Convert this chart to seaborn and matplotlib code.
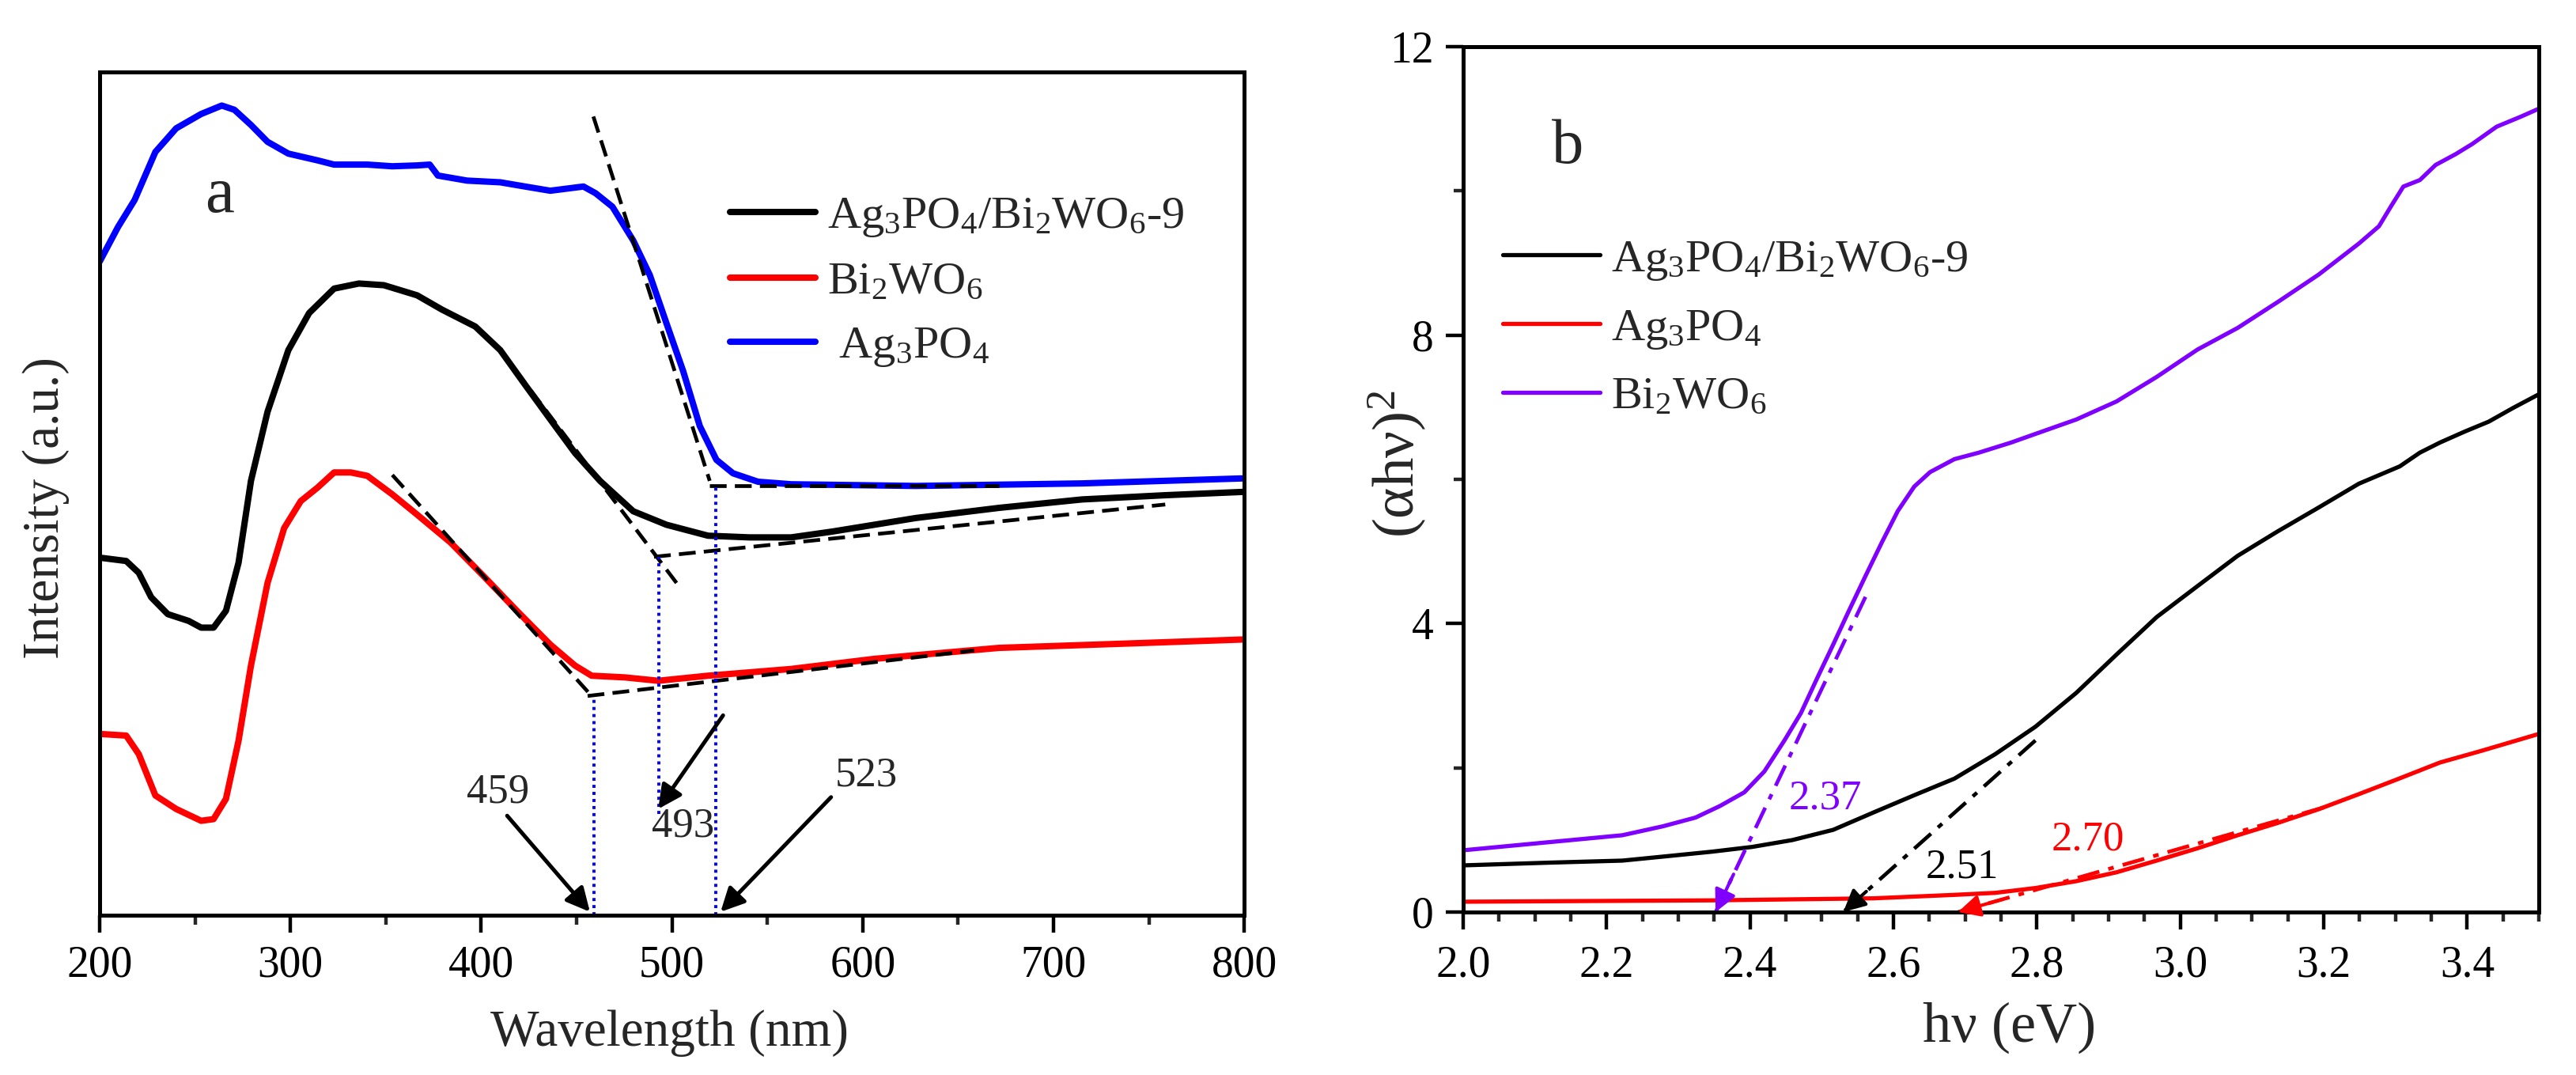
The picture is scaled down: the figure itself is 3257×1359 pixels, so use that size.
"""
UV-vis DRS spectra (a) and Tauc plot (b)
"""

import matplotlib
matplotlib.use("Agg")
import matplotlib.pyplot as plt
from matplotlib.ticker import MultipleLocator, FormatStrFormatter
import pandas as pd
import seaborn as sns

sns.set_style("ticks")
plt.rcParams["font.family"] = ["Liberation Serif", "DejaVu Serif"]
plt.rcParams["mathtext.fontset"] = "custom"
plt.rcParams["mathtext.rm"] = "Liberation Serif"
plt.rcParams["mathtext.it"] = "Liberation Serif:italic"
plt.rcParams["mathtext.bf"] = "Liberation Serif:bold"

# ---- panel a: reflectance spectra (arbitrary intensity units) ----
blue_wl = [200, 209.6, 218.3, 229.2, 240.1, 253.2, 264, 270.6, 279.3, 288, 298.9, 314.2,
           322.9, 340.3, 353.4, 366.4, 373, 377.3, 392.6, 410, 423, 436.2, 453.6, 460,
           468.8, 479.7, 488.4, 497.1, 505.9, 514.6, 523.3, 532, 545.1, 562.5, 627.9, 715, 800]
blue_int = [77.5, 81.6, 84.8, 90.5, 93.3, 95.0, 96.0, 95.5, 93.7, 91.7, 90.3, 89.5,
            89.0, 89.0, 88.8, 88.9, 89.0, 87.7, 87.1, 86.9, 86.4, 85.9, 86.4, 85.6,
            84.0, 80.0, 75.9, 70.2, 64.5, 58.0, 54.0, 52.4, 51.4, 51.1, 50.9, 51.2, 51.8]

black_wl = [200, 213.9, 220.5, 227, 235.7, 246.6, 253.2, 259.7, 266.2, 272.8, 279.3, 288,
            298.9, 309.8, 322.9, 335.9, 349, 366.4, 379.5, 396.9, 410, 423, 436.2, 449.2,
            462.3, 479.7, 497.1, 518.9, 540.7, 562.5, 584.3, 627.9, 671.4, 715, 758.6, 800]
black_int = [42.4, 42.0, 40.6, 37.7, 35.7, 34.9, 34.1, 34.1, 36.1, 41.8, 51.5, 59.7,
             67.0, 71.4, 74.3, 74.9, 74.7, 73.5, 71.8, 69.8, 67.0, 62.9, 58.8, 54.8,
             51.5, 47.9, 46.3, 45.0, 44.8, 44.8, 45.5, 47.1, 48.3, 49.3, 49.8, 50.2]

red_wl = [200, 213.9, 220.5, 229.2, 240.1, 253.2, 259.7, 266.2, 272.8, 279.3, 288, 296.7,
          305.4, 314.2, 322.9, 331.6, 340.3, 353.4, 366.4, 383.9, 401.3, 418.7, 436.2,
          449.2, 457.9, 475.4, 492.8, 518.9, 562.5, 606.1, 671.4, 736.8, 800]
red_int = [21.5, 21.3, 19.1, 14.2, 12.6, 11.2, 11.4, 13.8, 20.7, 29.6, 39.4, 45.9,
           49.1, 50.7, 52.5, 52.5, 52.1, 49.9, 47.5, 44.2, 40.2, 36.1, 32.1,
           29.6, 28.4, 28.2, 27.8, 28.4, 29.2, 30.4, 31.7, 32.2, 32.7]

labels_a = [r"Ag$_3$PO$_4$/Bi$_2$WO$_6$-9", r"Bi$_2$WO$_6$", r" Ag$_3$PO$_4$"]
colors_a = ["black", "#FF0000", "#0000FF"]

# tangent / baseline segments (x pair, y pair)
tangents_a = [
    ([458.8, 519.8], [94.7, 51.5]),
    ([519.8, 671.4], [50.9, 50.9]),
    ([410.0, 502.4], [67.0, 39.4]),
    ([490.6, 758.6], [42.5, 48.7]),
    ([353.4, 457.9], [52.2, 26.0]),
    ([455.8, 658.4], [26.0, 31.4]),
]
edge_wl = [459, 493, 523]
edge_ymin = [0, 12, 0]
edge_ymax = [26.0, 42.5, 51.1]
edge_text = ["459", "493", "523"]
edge_text_xy = [(408.7, 14.6), (505.9, 10.6), (601.7, 16.6)]
edge_arrow_tail = [(413.6, 11.8), (526.8, 23.7), (583.4, 14.0)]
edge_arrow_head = [(457.0, 0.4), (492.8, 12.6), (525.5, 0.4)]

# ---- panel b: Tauc plot ----
purple_ev = [2.0, 2.121, 2.222, 2.279, 2.324, 2.358, 2.392, 2.420, 2.448, 2.471, 2.493, 2.516,
             2.538, 2.561, 2.584, 2.606, 2.629, 2.651, 2.685, 2.719, 2.764, 2.798, 2.855, 2.911,
             2.967, 3.024, 3.080, 3.136, 3.193, 3.249, 3.277, 3.294, 3.311, 3.334, 3.356, 3.384,
             3.407, 3.441, 3.475, 3.5]
purple_val = [0.856, 0.97, 1.065, 1.19, 1.31, 1.47, 1.66, 1.95, 2.38, 2.76, 3.23, 3.71,
              4.18, 4.66, 5.13, 5.56, 5.90, 6.10, 6.28, 6.37, 6.51, 6.63, 6.83, 7.08,
              7.42, 7.80, 8.10, 8.46, 8.84, 9.27, 9.51, 9.79, 10.06, 10.15, 10.36, 10.51,
              10.65, 10.89, 11.03, 11.14]

comp_ev = [2.0, 2.121, 2.222, 2.29, 2.347, 2.403, 2.459, 2.516, 2.572, 2.629, 2.685, 2.742,
           2.798, 2.855, 2.911, 2.967, 3.024, 3.080, 3.136, 3.193, 3.249, 3.306, 3.334,
           3.362, 3.396, 3.43, 3.464, 3.5]
comp_val = [0.647, 0.685, 0.713, 0.78, 0.837, 0.903, 0.998, 1.14, 1.38, 1.62, 1.85, 2.19,
            2.57, 3.04, 3.57, 4.09, 4.52, 4.94, 5.28, 5.61, 5.94, 6.18, 6.37,
            6.51, 6.66, 6.80, 6.99, 7.18]

ag_ev = [2.0, 2.347, 2.572, 2.685, 2.742, 2.798, 2.855, 2.911, 2.967, 3.024, 3.080, 3.136,
         3.193, 3.249, 3.306, 3.362, 3.418, 3.5]
ag_val = [0.143, 0.162, 0.19, 0.238, 0.266, 0.333, 0.428, 0.551, 0.713, 0.884, 1.065, 1.236,
          1.426, 1.635, 1.854, 2.073, 2.23, 2.47]

labels_b = [r"Ag$_3$PO$_4$/Bi$_2$WO$_6$-9", r"Ag$_3$PO$_4$", r"Bi$_2$WO$_6$"]
colors_b = ["black", "#FF0000", "#8000FF"]

gap_lines = [
    ((2.561, 4.37), (2.352, 0.0), "#8000FF"),
    ((2.798, 2.38), (2.530, 0.0), "black"),
    ((3.200, 1.45), (2.690, 0.0), "#FF0000"),
]
gap_text = ["2.37", "2.51", "2.70"]
gap_text_xy = [(2.505, 1.57), (2.696, 0.62), (2.871, 1.0)]
gap_text_color = ["#8000FF", "black", "#FF0000"]


def long_frame(xs, ys, names, xcol, ycol):
    parts = []
    for x, y, n in zip(xs, ys, names):
        parts.append(pd.DataFrame({xcol: x, ycol: y, "sample": n}))
    return pd.concat(parts, ignore_index=True)


def style_axis(ax):
    for s in ax.spines.values():
        s.set_linewidth(3.6)
        s.set_color("black")
    ax.tick_params(which="major", direction="out", length=16, width=3.2,
                   labelsize=40, colors="black")
    ax.tick_params(which="minor", direction="out", length=8.5, width=3.2)


fig = plt.figure(figsize=(32.57, 13.59), dpi=100)

# ---------------- panel a ----------------
ax1 = fig.add_axes([0.0387, 0.1486, 0.4443, 0.7846])
df_a = long_frame([black_wl, red_wl, blue_wl], [black_int, red_int, blue_int],
                  labels_a, "wl", "intensity")
sns.lineplot(data=df_a, x="wl", y="intensity", hue="sample", hue_order=labels_a,
             palette=colors_a, sort=False, estimator=None, linewidth=5.8, ax=ax1)

for xs, ys in tangents_a:
    ax1.plot(xs, ys, color="black", linewidth=3.4, dashes=(4.5, 2.2))

ax1.vlines(edge_wl, edge_ymin, edge_ymax, colors="#0000FF", linewidth=2.8,
           linestyles=(0, (1, 1.3)))

for txt, pos, tail, head in zip(edge_text, edge_text_xy, edge_arrow_tail, edge_arrow_head):
    ax1.text(pos[0], pos[1], txt, fontsize=38, ha="center", va="center")
    ax1.annotate("", xy=head, xytext=tail,
                 arrowprops=dict(arrowstyle="-|>", color="black", lw=3.6,
                                 mutation_scale=45, shrinkA=0, shrinkB=0))

ax1.text(262.7, 85.2, "a", fontsize=60, ha="center", va="center")

ax1.set_xlim(200, 800)
ax1.set_ylim(0, 100)
ax1.xaxis.set_major_locator(MultipleLocator(100))
ax1.xaxis.set_minor_locator(MultipleLocator(50))
ax1.set_yticks([])
style_axis(ax1)
ax1.tick_params(axis="x", pad=11)
ax1.set_xlabel("Wavelength (nm)", fontsize=47)
ax1.set_ylabel("Intensity (a.u.)", fontsize=47)
ax1.xaxis.set_label_coords(0.498, -0.112)
ax1.yaxis.set_label_coords(-0.026, 0.483)

h, l = ax1.get_legend_handles_labels()
leg = ax1.legend(h, l, loc="upper left", bbox_to_anchor=(0.551, 0.853), frameon=False,
                 fontsize=42, handlelength=1.85, handletextpad=0.25, labelspacing=0.48,
                 borderpad=0, borderaxespad=0)
for line in leg.get_lines():
    line.set_linewidth(5.8)

# ---------------- panel b ----------------
ax2 = fig.add_axes([0.568, 0.1516, 0.4176, 0.805])
df_b = long_frame([comp_ev, ag_ev, purple_ev], [comp_val, ag_val, purple_val],
                  labels_b, "ev", "tauc")
sns.lineplot(data=df_b, x="ev", y="tauc", hue="sample", hue_order=labels_b,
             palette=colors_b, sort=False, estimator=None, linewidth=3.8, ax=ax2)

for (start, end, c) in gap_lines:
    ax2.plot([start[0], end[0]], [start[1], end[1]], color=c, linewidth=3.4,
             linestyle=(0, (6, 2.5, 1.5, 2.5)))
    back = (end[0] + 0.12 * (start[0] - end[0]), end[1] + 0.12 * (start[1] - end[1]))
    ax2.annotate("", xy=end, xytext=back,
                 arrowprops=dict(arrowstyle="-|>", color=c, lw=3.0,
                                 mutation_scale=42, shrinkA=0, shrinkB=0))

for txt, pos, c in zip(gap_text, gap_text_xy, gap_text_color):
    ax2.text(pos[0], pos[1], txt, fontsize=38, color=c, ha="center", va="center")

ax2.text(2.146, 10.6, "b", fontsize=58, ha="center", va="center")

ax2.set_xlim(2.0, 3.5)
ax2.set_ylim(0, 12)
ax2.xaxis.set_major_locator(MultipleLocator(0.2))
ax2.xaxis.set_minor_locator(MultipleLocator(0.05))
ax2.xaxis.set_major_formatter(FormatStrFormatter("%.1f"))
ax2.set_yticks([0, 4, 8, 12])
ax2.yaxis.set_minor_locator(MultipleLocator(2))
style_axis(ax2)
ax2.tick_params(axis="x", pad=14)
ax2.tick_params(axis="y", pad=11)
ax2.set_xlabel("hν (eV)", fontsize=52)
ax2.set_ylabel("(αhν)$^2$", fontsize=54)
ax2.xaxis.set_label_coords(0.508, -0.104)
ax2.yaxis.set_label_coords(-0.032, 0.518)

h, l = ax2.get_legend_handles_labels()
leg = ax2.legend(h, l, loc="upper left", bbox_to_anchor=(0.037, 0.778), frameon=False,
                 fontsize=42, handlelength=2.1, handletextpad=0.25, labelspacing=0.55,
                 borderpad=0, borderaxespad=0)
for line in leg.get_lines():
    line.set_linewidth(3.8)

fig.savefig("out.png", dpi=100)
